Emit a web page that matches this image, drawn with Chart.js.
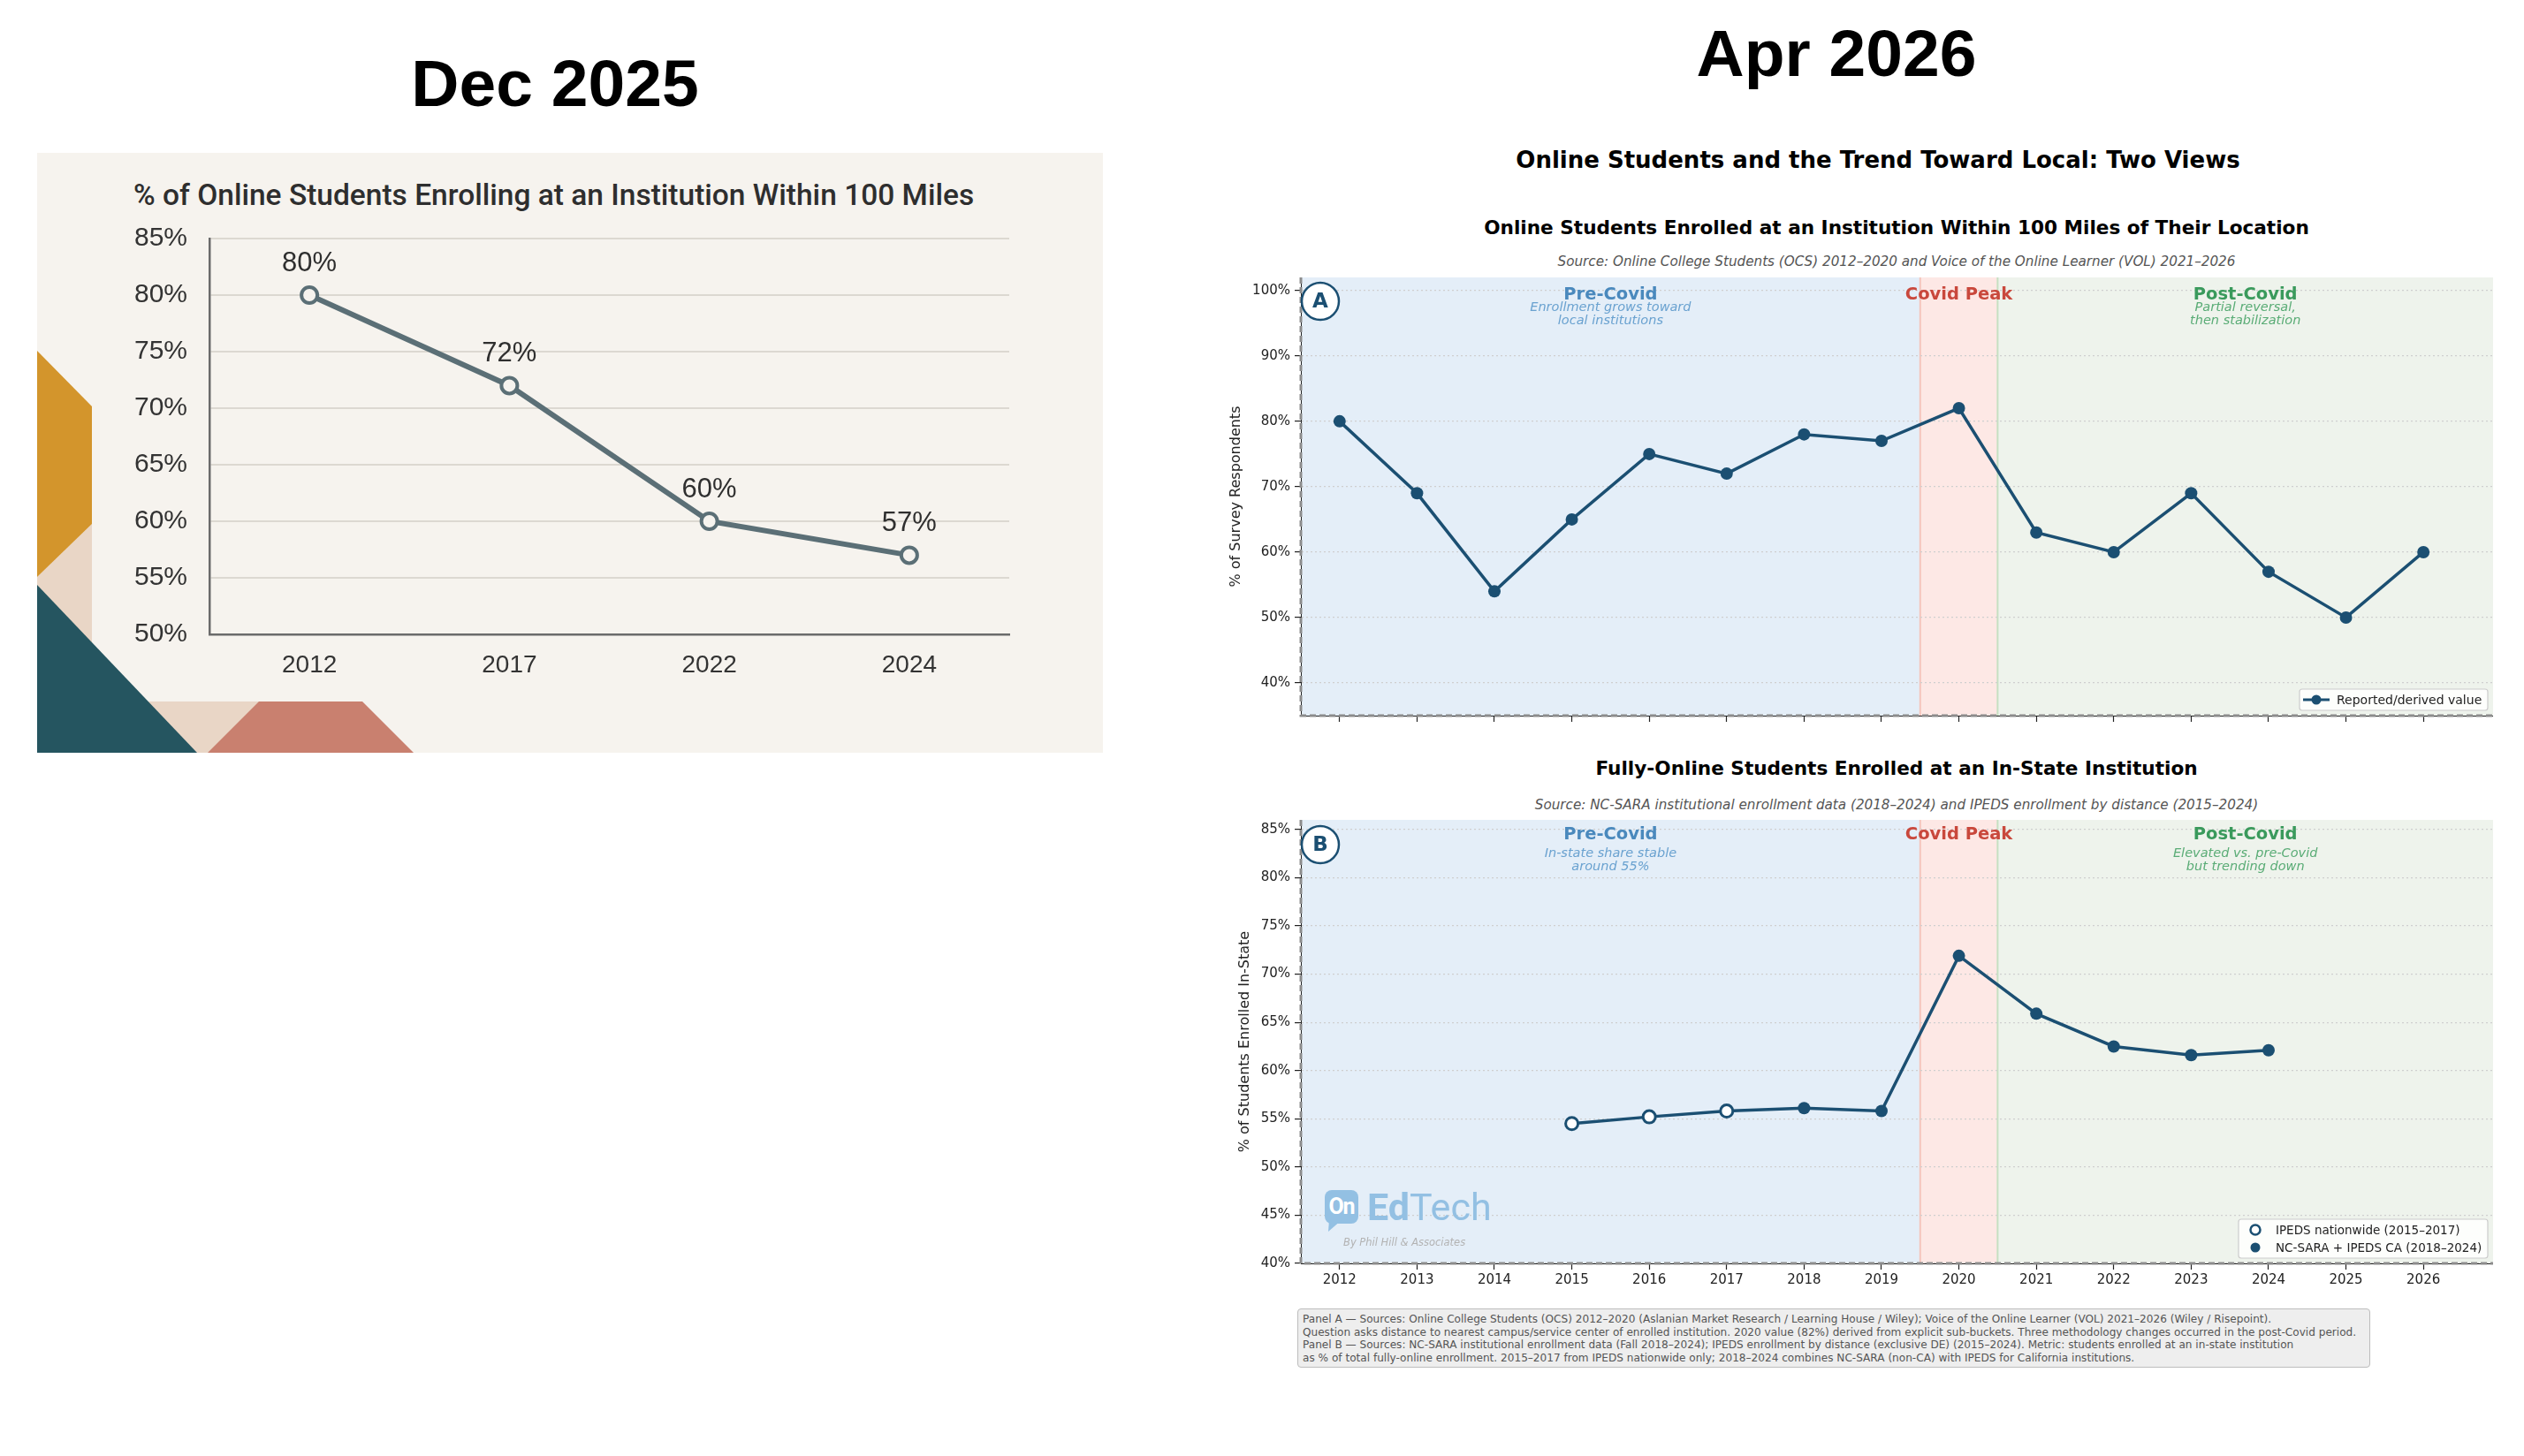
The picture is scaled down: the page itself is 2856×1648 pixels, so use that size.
<!DOCTYPE html>
<html><head><meta charset="utf-8">
<script src="https://cdn.jsdelivr.net/npm/chart.js@4.4.1/dist/chart.umd.min.js"></script>
<style>
html,body{margin:0;padding:0;background:#fff;width:2856px;height:1648px;overflow:hidden;position:relative}
.t{position:absolute;white-space:nowrap;line-height:1;text-align:center}
canvas{position:absolute;display:block}
#leftbg{position:absolute;left:42px;top:173px;width:1206px;height:679px;background:#f6f3ee;overflow:hidden}
#foot{position:absolute;left:1468px;top:1481px;width:1214px;height:67px;box-sizing:border-box;background:#eeeeee;border:1px solid #bdbdbd;border-radius:4px;padding:4px 5px;font-family:"DejaVu Sans";font-size:12.1px;line-height:14.5px;color:#555;white-space:nowrap}
</style></head><body>

<div class="t" style="left:0;width:1256px;top:57px;font-family:'Liberation Sans';font-weight:bold;font-size:75px;color:#000">Dec 2025</div>
<div class="t" style="left:1700px;width:756px;top:23px;font-family:'Liberation Sans';font-weight:bold;font-size:75px;color:#000">Apr 2026</div>

<div id="leftbg">
<svg width="1206" height="679" style="position:absolute;left:0;top:0">
<polygon points="0,480 62,420 62,621 258,621 258,679 0,679" fill="#e9d6c6"/>
<polygon points="0,224 62,287 62,420 0,480" fill="#d3952c"/>
<polygon points="0,489 181,679 0,679" fill="#255560"/>
<polygon points="251,621 368,621 426,679 193,679" fill="#c9806f"/>
</svg>
</div>
<div class="t" style="left:151px;top:204px;text-align:left;font-family:Roboto;font-weight:500;font-size:33.5px;color:#2e2e2e">% of Online Students Enrolling at an Institution Within 100 Miles</div>
<canvas id="cL" width="1206" height="679" style="left:42px;top:173px"></canvas>

<div class="t" style="left:1696px;width:858px;top:167.5px;font-family:'DejaVu Sans';font-weight:bold;font-size:26px;color:#000">Online Students and the Trend Toward Local: Two Views</div>
<div class="t" style="left:1646px;width:1000px;top:246.6px;font-family:'DejaVu Sans';font-weight:bold;font-size:21.6px;color:#000">Online Students Enrolled at an Institution Within 100 Miles of Their Location</div>
<div class="t" style="left:1646px;width:1000px;top:288.6px;font-family:'DejaVu Sans';font-style:italic;font-size:15.2px;color:#555">Source: Online College Students (OCS) 2012–2020 and Voice of the Online Learner (VOL) 2021–2026</div>
<canvas id="cA" width="1441" height="524" style="left:1380px;top:300px"></canvas>

<div class="t" style="left:1646px;width:1000px;top:858.6px;font-family:'DejaVu Sans';font-weight:bold;font-size:21.6px;color:#000">Fully-Online Students Enrolled at an In-State Institution</div>
<div class="t" style="left:1646px;width:1000px;top:903.6px;font-family:'DejaVu Sans';font-style:italic;font-size:15.2px;color:#555">Source: NC-SARA institutional enrollment data (2018–2024) and IPEDS enrollment by distance (2015–2024)</div>
<canvas id="cB" width="1441" height="556" style="left:1380px;top:914px"></canvas>

<div id="logo" style="position:absolute;left:1499px;top:1347px;width:200px;height:70px;pointer-events:none">
  <div style="position:absolute;left:0;top:0;width:38px;height:38px;background:#93c0e3;border-radius:8px;color:#fff;font-family:Roboto;font-weight:bold;font-size:25px;line-height:38px;text-align:center;letter-spacing:-1px">On</div>
  <svg width="20" height="16" style="position:absolute;left:3px;top:34px"><polygon points="2,0 16,0 1,13" fill="#93c0e3"/></svg>
  <div style="position:absolute;left:48px;top:-6px;font-family:Roboto;font-size:43px;line-height:50px;color:#93c0e3;white-space:nowrap"><b>Ed</b>Tech</div>
  <div style="position:absolute;left:21px;top:52px;font-family:'DejaVu Sans';font-style:italic;font-size:11.5px;color:#b3b3b3;white-space:nowrap">By Phil Hill &amp; Associates</div>
</div>

<div id="foot">Panel A — Sources: Online College Students (OCS) 2012–2020 (Aslanian Market Research / Learning House / Wiley); Voice of the Online Learner (VOL) 2021–2026 (Wiley / Risepoint).<br>Question asks distance to nearest campus/service center of enrolled institution. 2020 value (82%) derived from explicit sub-buckets. Three methodology changes occurred in the post-Covid period.<br>Panel B — Sources: NC-SARA institutional enrollment data (Fall 2018–2024); IPEDS enrollment by distance (exclusive DE) (2015–2024). Metric: students enrolled at an in-state institution<br>as % of total fully-online enrollment. 2015–2017 from IPEDS nationwide only; 2018–2024 combines NC-SARA (non-CA) with IPEDS for California institutions.</div>

<script>
// ---------- DATA ----------
const leftYears = ['2012', '2017', '2022', '2024'];
const leftValues = [80, 72, 60, 57];

const years = [2012, 2013, 2014, 2015, 2016, 2017, 2018, 2019, 2020, 2021, 2022, 2023, 2024, 2025, 2026];
const panelAValues = [80, 69, 54, 65, 75, 72, 78, 77, 82, 63, 60, 69, 57, 50, 60];

const ipedsYears = [2015, 2016, 2017];
const ipedsValues = [54.5, 55.2, 55.8];
const ncsaraYears = [2018, 2019, 2020, 2021, 2022, 2023, 2024];
const ncsaraValues = [56.1, 55.8, 71.9, 65.9, 62.5, 61.6, 62.1];

const panelATicks = [40, 50, 60, 70, 80, 90, 100];
const panelBTicks = [40, 45, 50, 55, 60, 65, 70, 75, 80, 85];

const periodNames = ['Pre-Covid', 'Covid Peak', 'Post-Covid'];
const periodBounds = [2011.5, 2019.5, 2020.5, 2026.9];
const periodNotesA = [['Enrollment grows toward', 'local institutions'], [], ['Partial reversal,', 'then stabilization']];
const periodNotesB = [['In-state share stable', 'around 55%'], [], ['Elevated vs. pre-Covid', 'but trending down']];

// ---------- STYLE ----------
const NAVY = '#1b4f72';
const periodFill = ['#e4eef8', '#fde8e5', '#eef3ec'];
const periodEdge = [null, '#f4c5bc', '#c6e0c2'];
const periodTitleColor = ['#4a89bd', '#c9483c', '#3a9a5c'];
const periodNoteColor = ['#6aa2d0', '#c9483c', '#5aac76'];
const DV = '"DejaVu Sans"';

const pts = (xs, ys) => xs.map((x, i) => ({x: x, y: ys[i]}));

// ---------- LEFT CHART ----------
const leftLabels = {
  id: 'leftLabels',
  afterDatasetsDraw(chart) {
    const ctx = chart.ctx;
    const meta = chart.getDatasetMeta(0);
    ctx.save();
    ctx.font = '31px "Liberation Sans"';
    ctx.fillStyle = '#2f2f2f';
    ctx.textAlign = 'center';
    ctx.textBaseline = 'middle';
    meta.data.forEach((p, i) => ctx.fillText(leftValues[i] + '%', p.x, p.y - 36));
    ctx.restore();
  }
};

new Chart(document.getElementById('cL'), {
  type: 'line',
  data: {labels: leftYears, datasets: [{
    data: leftValues, borderColor: '#5b6f76', borderWidth: 6, tension: 0,
    pointRadius: 9, pointBorderWidth: 4, pointBackgroundColor: '#f6f3ee', pointBorderColor: '#5b6f76'
  }]},
  options: {
    responsive: false, animation: false, devicePixelRatio: 1,
    layout: {autoPadding: false, padding: {top: 97, right: 106, left: 0, bottom: 0}},
    plugins: {legend: {display: false}, tooltip: {enabled: false}},
    scales: {
      x: {offset: true, grid: {display: false, drawTicks: false},
          border: {display: true, color: '#6b6b6b', width: 2.5},
          ticks: {font: {family: 'Liberation Sans', size: 28}, color: '#333', padding: 18},
          afterFit: s => { s.height = 134; }},
      y: {min: 50, max: 85,
          ticks: {stepSize: 5, callback: v => v + '%', font: {family: 'Liberation Sans', size: 30}, color: '#333', padding: 25},
          grid: {color: '#dcd8d1', lineWidth: 2, drawTicks: false},
          border: {display: true, color: '#6b6b6b', width: 2.5},
          afterFit: s => { s.width = 195; }}
    }
  },
  plugins: [leftLabels]
});

// ---------- RIGHT PANELS ----------
function roundRect(ctx, x, y, w, h, r) {
  ctx.beginPath();
  ctx.moveTo(x + r, y); ctx.lineTo(x + w - r, y); ctx.quadraticCurveTo(x + w, y, x + w, y + r);
  ctx.lineTo(x + w, y + h - r); ctx.quadraticCurveTo(x + w, y + h, x + w - r, y + h);
  ctx.lineTo(x + r, y + h); ctx.quadraticCurveTo(x, y + h, x, y + h - r);
  ctx.lineTo(x, y + r); ctx.quadraticCurveTo(x, y, x + r, y); ctx.closePath();
}

const panelPlugin = {
  id: 'panel',
  beforeDraw(chart, args, o) {
    const {ctx, chartArea: a, scales: {x}} = chart;
    ctx.save();
    ctx.beginPath(); ctx.rect(a.left, a.top, a.width, a.height); ctx.clip();
    for (let i = 0; i < periodNames.length; i++) {
      const x1 = x.getPixelForValue(periodBounds[i]), x2 = x.getPixelForValue(periodBounds[i + 1]);
      ctx.fillStyle = periodFill[i];
      ctx.fillRect(x1, a.top, x2 - x1, a.height);
    }
    for (let i = 0; i < periodNames.length; i++) {
      if (!periodEdge[i]) continue;
      const x1 = x.getPixelForValue(periodBounds[i]);
      ctx.strokeStyle = periodEdge[i]; ctx.lineWidth = 2;
      ctx.beginPath(); ctx.moveTo(x1, a.top); ctx.lineTo(x1, a.bottom); ctx.stroke();
    }
    ctx.restore();
  },
  afterDraw(chart, args, o) {
    const {ctx, chartArea: a, scales: {x}} = chart;
    ctx.save();
    // spines overlay (dashed gray)
    ctx.strokeStyle = '#8c8c8c'; ctx.lineWidth = 3; ctx.setLineDash([7, 4]);
    ctx.beginPath(); ctx.moveTo(a.left, a.top); ctx.lineTo(a.left, a.bottom); ctx.lineTo(a.right, a.bottom); ctx.stroke();
    ctx.setLineDash([]);
    // period labels
    ctx.textAlign = 'center'; ctx.textBaseline = 'middle';
    for (let i = 0; i < periodNames.length; i++) {
      const cx = x.getPixelForValue((periodBounds[i] + periodBounds[i + 1]) / 2);
      ctx.font = 'bold 19.5px ' + DV; ctx.fillStyle = periodTitleColor[i];
      ctx.fillText(periodNames[i], cx, a.top + o.titleDy);
      ctx.font = 'italic 14.5px ' + DV; ctx.fillStyle = periodNoteColor[i];
      o.notes[i].forEach((line, j) => ctx.fillText(line, cx, a.top + o.noteDy + j * o.noteGap));
    }
    // badge
    const bx = a.left + 22, by = a.top + o.badgeDy;
    ctx.beginPath(); ctx.arc(bx, by, 21, 0, Math.PI * 2);
    ctx.fillStyle = '#fff'; ctx.fill();
    ctx.lineWidth = 2.5; ctx.strokeStyle = NAVY; ctx.stroke();
    ctx.fillStyle = NAVY; ctx.font = 'bold 23px ' + DV;
    ctx.fillText(o.badge, bx, by + 1);
    // legend
    const items = o.legend;
    const rowH = 20, bw = o.legendWidth, bh = items.length * rowH + 4;
    const lx = a.right - 6 - bw, ly = a.bottom - 6 - bh;
    roundRect(ctx, lx, ly, bw, bh, 3);
    ctx.fillStyle = 'rgba(255,255,255,0.85)'; ctx.fill();
    ctx.strokeStyle = '#cccccc'; ctx.lineWidth = 1.2; ctx.stroke();
    ctx.textAlign = 'left';
    items.forEach((it, j) => {
      const yy = ly + 2 + rowH / 2 + j * rowH;
      const mx = lx + 19;
      if (it.line) {
        ctx.strokeStyle = NAVY; ctx.lineWidth = 3;
        ctx.beginPath(); ctx.moveTo(lx + 4, yy); ctx.lineTo(lx + 34, yy); ctx.stroke();
      }
      ctx.beginPath(); ctx.arc(mx, yy, 5.5, 0, Math.PI * 2);
      if (it.open) { ctx.fillStyle = '#fff'; ctx.fill(); ctx.lineWidth = 2.5; ctx.strokeStyle = NAVY; ctx.stroke(); }
      else { ctx.fillStyle = NAVY; ctx.fill(); }
      ctx.fillStyle = '#222'; ctx.font = o.legendFont + 'px ' + DV;
      ctx.fillText(it.text, lx + 42, yy + 1);
    });
    ctx.restore();
  }
};

function axisX(showLabels, h) {
  return {
    type: 'linear', min: periodBounds[0], max: periodBounds[3],
    afterBuildTicks: s => { s.ticks = years.map(v => ({value: v})); },
    ticks: {display: showLabels, callback: v => String(v), font: {family: 'DejaVu Sans', size: 15}, color: '#222', padding: 3, autoSkip: false, maxRotation: 0},
    grid: {drawOnChartArea: false, drawTicks: true, tickLength: 7, tickColor: '#222', tickWidth: 1.2},
    border: {display: true, color: '#222', width: 1},
    afterFit: s => { s.height = h; }
  };
}
function axisY(min, max, ticks, title, titlePad) {
  return {
    min: min, max: max,
    afterBuildTicks: s => { s.ticks = ticks.map(v => ({value: v})); },
    ticks: {callback: v => v + '%', font: {family: 'DejaVu Sans', size: 15}, color: '#222', padding: 5},
    grid: {color: '#cfcfcf', lineWidth: 1.2, drawTicks: true, tickLength: 7, tickColor: '#222', tickWidth: 1.2},
    border: {display: true, color: '#222', width: 1, dash: [2, 3]},
    title: {display: true, text: title, font: {family: 'DejaVu Sans', size: 16}, color: '#222', padding: {top: titlePad, bottom: 0}},
    afterFit: s => { s.width = 92; }
  };
}

new Chart(document.getElementById('cA'), {
  type: 'line',
  data: {datasets: [{
    data: pts(years, panelAValues), borderColor: NAVY, borderWidth: 3.5, tension: 0,
    pointRadius: 7, pointBackgroundColor: NAVY, pointBorderWidth: 0
  }]},
  options: {
    responsive: false, animation: false, devicePixelRatio: 1,
    layout: {autoPadding: false, padding: {top: 10, right: 0, left: 0, bottom: 0}},
    plugins: {legend: {display: false}, tooltip: {enabled: false},
      panel: {badge: 'A', badgeDy: 27, titleDy: 20, noteDy: 34, noteGap: 15, notes: periodNotesA, legendWidth: 213, legendFont: 14,
              legend: [{text: 'Reported/derived value', line: true}]}},
    scales: {x: axisX(false, 12), y: axisY(35, 102, panelATicks, '% of Survey Respondents', 9.5)}
  },
  plugins: [panelPlugin]
});

new Chart(document.getElementById('cB'), {
  type: 'line',
  data: {datasets: [
    {data: pts(ipedsYears.concat(ncsaraYears), ipedsValues.concat(ncsaraValues)), borderColor: NAVY, borderWidth: 3.5, tension: 0, pointRadius: 0, order: 10},
    {data: pts(ipedsYears, ipedsValues), showLine: false, pointRadius: 7, pointBackgroundColor: '#fff', pointBorderColor: NAVY, pointBorderWidth: 3, order: 1},
    {data: pts(ncsaraYears, ncsaraValues), showLine: false, pointRadius: 7, pointBackgroundColor: NAVY, pointBorderColor: NAVY, pointBorderWidth: 0, order: 1}
  ]},
  options: {
    responsive: false, animation: false, devicePixelRatio: 1,
    layout: {autoPadding: false, padding: {top: 10, right: 0, left: 0, bottom: 0}},
    plugins: {legend: {display: false}, tooltip: {enabled: false},
      panel: {badge: 'B', badgeDy: 28, titleDy: 17, noteDy: 38, noteGap: 15, notes: periodNotesB, legendWidth: 282, legendFont: 13.5,
              legend: [{text: 'IPEDS nationwide (2015–2017)', open: true}, {text: 'NC-SARA + IPEDS CA (2018–2024)'}]}},
    scales: {x: axisX(true, 40), y: axisY(40, 86, panelBTicks, '% of Students Enrolled In-State', 19.4)}
  },
  plugins: [panelPlugin]
});
</script>
</body></html>
